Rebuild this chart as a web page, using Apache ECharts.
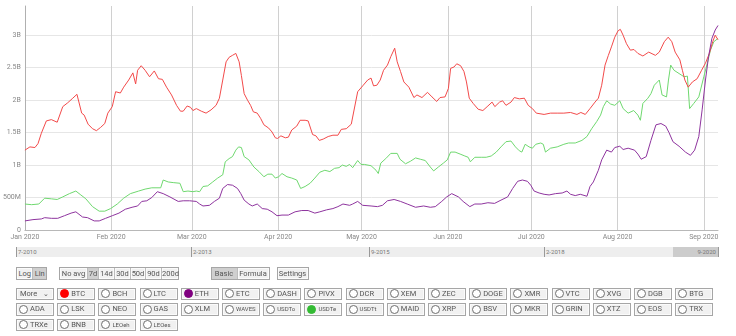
<!DOCTYPE html>
<html>
<head>
<meta charset="utf-8">
<script src="https://cdn.jsdelivr.net/npm/echarts@6/dist/echarts.min.js"></script>
<style>
html,body{margin:0;padding:0;background:#fff;}
#wrap{position:relative;width:736px;height:336px;overflow:hidden;font-family:Roboto,Arial,sans-serif;}
#chart{position:absolute;left:0;top:0;width:736px;height:336px;}
.nav{position:absolute;left:16px;top:247px;width:703px;height:10px;background:#eeeeee;}
.nav .sel{position:absolute;left:657px;right:0;top:0;bottom:0;background:#cccccc;}
.nav .tk{position:absolute;top:0;bottom:0;width:1px;background:#999;}
.nav .lb{position:absolute;top:1px;font-size:6px;line-height:8px;color:#777;}
.btn{position:absolute;box-sizing:border-box;height:13px;border:1px solid #a6a6a6;box-shadow:inset 0 0 0 1px #fbfbfb;background:#f1f1f1;color:#555;font-size:8px;line-height:11px;white-space:nowrap;overflow:hidden;}
.grp{position:absolute;box-sizing:border-box;height:13px;border:1px solid #a6a6a6;display:flex;background:#f1f1f1;}
.grp span{box-sizing:border-box;height:11px;font-size:7.5px;line-height:11px;color:#555;text-align:center;border-left:1px solid #bdbdbd;box-shadow:inset 0 0 0 1px #fbfbfb;}
.grp span:first-child{border-left:none;}
.grp span.on{background:#cfcfcf;box-shadow:none;}
.coin{height:12.5px;width:38px;font-size:7.5px;line-height:10.5px;}
.coin i{display:inline-block;box-sizing:border-box;width:9px;height:9px;border:1px solid #707070;border-radius:50%;background:#fff;vertical-align:top;margin:0.5px 2px 0 2px;}
.coin.sm{font-size:6px;}
.sel2{font-size:7.5px;}
</style>
</head>
<body>
<div id="wrap">
<div id="chart"></div>
<div id="ui"></div>
</div>
<script>
// ---- data (values in billions, x = days after 2020-01-01) ----
var btcData = [[0,1.23],[1.8,1.28],[3.6,1.27],[4.7,1.33],[5.9,1.49],[7.7,1.68],[9.5,1.70],[11.6,1.66],[13.6,1.90],[15.4,1.96],[17.2,2.03],[18.7,2.09],[20.4,1.80],[21.3,1.77],[22.7,1.63],[24.3,1.56],[25.7,1.53],[27.2,1.58],[28.7,1.64],[29.8,1.80],[31.4,1.90],[32.6,2.13],[34.3,2.11],[35.5,2.20],[37.3,2.31],[38.8,2.42],[39.8,2.25],[40.5,2.46],[41.8,2.53],[43.2,2.46],[44.8,2.36],[46.5,2.45],[48,2.33],[49.4,2.32],[50.9,2.20],[52.7,2.08],[54.5,1.92],[55.9,1.83],[56.9,1.83],[58.3,1.91],[59.5,1.89],[60.4,1.84],[61.6,1.87],[63.4,1.83],[65.1,1.80],[66.9,1.85],[68.7,1.92],[69.9,2.03],[71.1,2.31],[72.3,2.59],[73.4,2.66],[74.6,2.69],[75.8,2.72],[77,2.59],[77.8,2.38],[78.8,2.10],[80,2.00],[81.1,1.92],[82.1,1.82],[83.5,1.80],[84.7,1.72],[85.9,1.62],[87.6,1.57],[88.8,1.51],[90,1.42],[90.8,1.41],[92,1.45],[93.6,1.42],[94.7,1.43],[95.9,1.54],[97.7,1.60],[98.9,1.69],[100.7,1.69],[101.8,1.68],[103.4,1.47],[104.6,1.45],[105.8,1.38],[107.2,1.40],[109,1.44],[110.7,1.46],[112.5,1.46],[113.7,1.55],[115.5,1.56],[117.3,1.63],[117.8,1.74],[119.6,2.13],[121.4,2.22],[123.2,2.31],[124.4,2.34],[125.3,2.22],[126.5,2.23],[127.7,2.31],[128.9,2.46],[130.3,2.54],[131.5,2.67],[132.9,2.80],[133.8,2.59],[135,2.44],[136.2,2.28],[138,2.20],[139.8,2.04],[140.9,2.08],[142.7,2.04],[144.7,2.12],[146.3,2.05],[148,1.98],[149.2,2.04],[151,2.05],[152.2,2.18],[153,2.49],[154.2,2.51],[155.2,2.56],[156.6,2.53],[157.8,2.44],[158.7,2.28],[159.7,2.03],[161.1,1.95],[162.9,1.86],[164.6,1.84],[166.4,1.91],[167.9,1.97],[168.9,1.90],[170.6,1.97],[171.7,1.99],[172.9,1.92],[174.7,1.97],[175.9,2.04],[177.7,2.02],[179.5,2.03],[180.9,1.92],[182.4,1.87],[183.8,1.80],[186.6,1.78],[188.9,1.80],[191.3,1.80],[193.7,1.80],[196.1,1.81],[198.4,1.78],[199.8,1.81],[201.4,1.78],[203.1,1.87],[204.9,1.97],[206.1,2.03],[207.3,2.23],[208.5,2.54],[209.7,2.69],[210.8,2.82],[212,2.97],[213.2,3.07],[214,3.09],[215,3.00],[216.2,2.87],[217.6,2.77],[218.9,2.78],[220.3,2.72],[222.1,2.68],[224.2,2.74],[226.6,2.69],[228,2.74],[229.8,2.90],[231.2,2.97],[232.5,2.90],[233.7,2.74],[235.4,2.62],[236.3,2.46],[237.2,2.31],[238.4,2.20],[239.9,2.28],[241.6,2.33],[243.2,2.46],[244.6,2.57],[246,2.72],[247.2,2.90],[248.1,3.00],[249.1,2.93]];
var usdteData = [[0,0.40],[2.4,0.39],[5,0.40],[7.1,0.49],[9.5,0.48],[11.6,0.47],[13.6,0.51],[16,0.56],[18.3,0.60],[20.1,0.54],[21.9,0.48],[24.3,0.36],[26.7,0.29],[28.7,0.29],[30.8,0.33],[33.2,0.40],[35.5,0.49],[37.9,0.56],[40.9,0.60],[43.2,0.63],[45.6,0.65],[48.8,0.65],[49.7,0.77],[51.5,0.74],[53.3,0.73],[55.7,0.72],[56.9,0.59],[58.6,0.60],[60.4,0.59],[61.6,0.60],[62.8,0.59],[64,0.67],[65.7,0.68],[67.5,0.74],[69.3,0.80],[71.1,0.85],[72,1.05],[73.4,1.10],[74.6,1.13],[75.8,1.23],[76.8,1.28],[77.8,1.27],[78.8,1.13],[80.5,1.08],[82.3,0.97],[84.1,0.90],[85.9,0.82],[87.3,0.86],[88.8,0.86],[90,0.80],[91.2,0.82],[92.4,0.87],[94.2,0.82],[95.9,0.80],[97.7,0.77],[99.1,0.64],[100.7,0.67],[102.5,0.72],[104.2,0.80],[106,0.89],[107.8,0.92],[109.6,0.90],[111.3,0.95],[112.9,0.96],[114.1,1.00],[115.5,0.98],[116.7,1.01],[117.8,0.96],[119.6,1.07],[120.8,1.01],[122,1.01],[124.4,0.99],[126.2,0.92],[127,0.87],[127.9,1.03],[129.7,1.10],[131.5,1.18],[133.8,1.18],[134.8,1.09],[136.8,1.02],[138.6,1.06],[140.4,1.11],[142.1,1.09],[143.9,1.07],[145.7,0.97],[146.9,0.91],[148.6,0.97],[150.4,1.03],[151.8,1.08],[153,1.20],[154.6,1.20],[156.4,1.17],[158.1,1.14],[159.3,1.12],[160.1,1.05],[161.7,1.12],[164,1.12],[165.8,1.12],[167.6,1.14],[169.4,1.20],[171.1,1.28],[172.9,1.36],[174.7,1.37],[176.3,1.28],[177.7,1.22],[178.6,1.20],[179.8,1.32],[181.2,1.28],[182.4,1.26],[183.6,1.32],[185.4,1.34],[186.3,1.32],[187.1,1.20],[188.9,1.26],[191.3,1.28],[193.7,1.32],[195.4,1.34],[197.8,1.34],[200.2,1.38],[202,1.44],[203.7,1.56],[205.5,1.67],[206.9,1.77],[207.9,1.90],[209.1,1.99],[210.5,1.94],[212,1.92],[213.8,1.99],[215,1.87],[216.8,1.80],[218.8,1.84],[220.3,1.77],[221.2,1.69],[222.1,1.95],[223.9,2.03],[225,2.10],[226.2,2.23],[228,2.31],[229,2.08],[230.6,2.05],[231.3,2.31],[232.1,2.54],[233.3,2.46],[235.1,2.41],[236.9,2.36],[238.1,2.37],[238.9,1.87],[240.4,1.95],[242.2,2.05],[244,2.36],[245.2,2.56],[246.4,2.77],[247.6,2.90],[249.1,2.95]];
var ethData = [[0,0.14],[2.9,0.16],[5.9,0.17],[7.1,0.19],[9.5,0.18],[11.8,0.18],[14.2,0.22],[16.6,0.26],[18.3,0.28],[20.7,0.20],[22.5,0.19],[24.9,0.14],[26.7,0.14],[29,0.18],[31.4,0.22],[33.8,0.26],[36.1,0.32],[38.5,0.35],[40.5,0.37],[42,0.44],[43.8,0.45],[45.6,0.50],[47.6,0.59],[49.7,0.56],[52.1,0.51],[55.1,0.44],[56.9,0.45],[59.2,0.45],[61.6,0.44],[62.8,0.40],[64,0.37],[66.3,0.38],[68.1,0.44],[69.9,0.49],[71.1,0.64],[72.8,0.70],[74.6,0.69],[76.4,0.64],[77.6,0.56],[78.8,0.46],[80.5,0.40],[81.7,0.37],[83.5,0.40],[85.3,0.33],[87.1,0.32],[88.8,0.28],[90.6,0.22],[92.4,0.23],[94.7,0.23],[97.1,0.28],[99.5,0.30],[101.8,0.30],[104.2,0.26],[106,0.28],[108.4,0.31],[110.7,0.33],[112.5,0.36],[114.3,0.40],[116.7,0.38],[117.8,0.40],[119.6,0.44],[121.4,0.38],[124.4,0.37],[126.7,0.36],[128.5,0.38],[130.3,0.45],[132.7,0.47],[135,0.44],[137.4,0.40],[140.4,0.35],[143.3,0.37],[145.7,0.35],[147.5,0.36],[149.8,0.44],[151.6,0.51],[153.4,0.56],[155.8,0.51],[157.5,0.44],[159.9,0.36],[161.7,0.40],[164,0.40],[166.4,0.42],[168.8,0.41],[171.1,0.46],[173.5,0.51],[175.3,0.64],[177.1,0.75],[178.8,0.77],[180.6,0.75],[181.8,0.69],[183,0.60],[184.8,0.57],[186.6,0.55],[188.4,0.54],[190.7,0.56],[193.1,0.57],[194.8,0.60],[196.1,0.55],[197.8,0.53],[199.6,0.55],[202,0.52],[203.1,0.67],[204.3,0.74],[206.1,0.92],[207.3,1.08],[209.1,1.23],[210.8,1.20],[212,1.27],[213.8,1.29],[215,1.24],[216.8,1.26],[219.1,1.23],[220.3,1.17],[221.5,1.09],[223.3,1.13],[225,1.38],[226.8,1.62],[228.6,1.64],[230.3,1.60],[231.5,1.50],[232.9,1.36],[235.1,1.29],[237.4,1.20],[239.2,1.15],[240.7,1.23],[242.2,1.44],[243.4,1.85],[244.6,2.31],[245.7,2.67],[246.9,2.95],[248.1,3.08],[249.1,3.15]];
var startDate = [2020, 0, 1];
var endDay = 249.1;
var yMax = 3.45;
var yStep = 0.5;
var navLabels = ['7-2010', '2-2013', '9-2015', '2-2018', '9-2020'];
var row2Coins = ['BTC','BCH','LTC','ETH','ETC','DASH','PIVX','DCR','XEM','ZEC','DOGE','XMR','VTC','XVG','DGB','BTG'];
var row3Coins = ['ADA','LSK','NEO','GAS','XLM','WAVES','USDTo','USDTe','USDTt','MAID','XRP','BSV','MKR','GRIN','XTZ','EOS','TRX'];
var row4Coins = ['TRXe','BNB','LEOeh','LEOes'];
var activeCoins = {BTC:'#ff0000', ETH:'#800080', USDTe:'#33bb33'};

var base = new Date(startDate[0], startDate[1], startDate[2]).getTime();
function toTime(arr){ return arr.map(function(p){ return [base + p[0]*864e5, p[1]]; }); }

var chart = echarts.init(document.getElementById('chart'), null, {renderer:'canvas'});
var fontFam = 'Roboto, Arial, sans-serif';
chart.setOption({
  animation:false,
  grid:{left:16, right:18, top:6, bottom:106, containLabel:false},
  xAxis:{
    type:'time', min:base, max:base+endDay*864e5,
    splitNumber:8, minInterval:28*864e5, maxInterval:31*864e5,
    axisLine:{show:true, lineStyle:{color:'#b8b8b8', width:1}},
    axisTick:{show:false},
    axisLabel:{formatter:'{MMM} {yyyy}', color:'#888', fontSize:7, fontFamily:fontFam, margin:4, hideOverlap:false},
    splitLine:{show:true, showMaxLine:false, lineStyle:{color:'#d0d0d0', width:1}}
  },
  yAxis:{
    type:'value', min:0, max:yMax, interval:yStep,
    axisLine:{show:true, lineStyle:{color:'#b0b0b0', width:1}},
    axisTick:{show:false},
    axisLabel:{showMaxLabel:false, color:'#888', fontSize:7, fontFamily:fontFam, margin:4,
      formatter:function(v){ if(v===0) return '0'; if(v>=1) return v+'B'; return Math.round(v*1000)+'M'; }},
    splitLine:{show:true, showMaxLine:false, lineStyle:{color:'#e6e6e6', width:1}}
  },
  series:[
    {name:'USDTe', type:'line', data:toTime(usdteData), showSymbol:false, lineStyle:{color:'#6fd86f', width:1}, itemStyle:{color:'#6fd86f'}},
    {name:'BTC', type:'line', data:toTime(btcData), showSymbol:false, lineStyle:{color:'#f24a4a', width:1}, itemStyle:{color:'#f24a4a'}},
    {name:'ETH', type:'line', data:toTime(ethData), showSymbol:false, lineStyle:{color:'#8e349e', width:1}, itemStyle:{color:'#8e349e'}}
  ]
});

// ---- UI below chart ----
var ui = document.getElementById('ui');
var h = '';
// navigator
var navTicks = [0, 175, 353, 528];
h += '<div class="nav"><div class="sel"></div>';
for (var i=0;i<navTicks.length;i++){
  h += '<div class="tk" style="left:'+navTicks[i]+'px"></div><div class="lb" style="left:'+(navTicks[i]+2)+'px">'+navLabels[i]+'</div>';
}
h += '<div class="tk" style="left:702px"></div><div class="lb" style="right:3px">'+navLabels[4]+'</div></div>';
// row 1
h += '<div class="grp" style="left:16px;top:266.5px;width:31px"><span style="width:16px">Log</span><span class="on" style="width:14px">Lin</span></div>';
h += '<div class="grp" style="left:59px;top:266.5px;width:120px"><span style="width:27px">No avg</span><span class="on" style="width:11px">7d</span><span style="width:16px">14d</span><span style="width:16px">30d</span><span style="width:15px">50d</span><span style="width:16px">90d</span><span style="width:17px">200d</span></div>';
h += '<div class="grp" style="left:210.5px;top:266.5px;width:59px"><span class="on" style="width:25px">Basic</span><span style="width:32px">Formula</span></div>';
h += '<div class="btn" style="left:276.5px;top:266.5px;width:32px;text-align:center;font-size:7.5px">Settings</div>';
// coin rows
function coinBtn(name, col, top){
  var x = 16 + col*41.2;
  var c = activeCoins[name];
  var dot = c ? '<i style="background:'+c+';border-color:'+c+'"></i>' : '<i></i>';
  var sm = name.length >= 5 ? ' sm' : '';
  return '<div class="btn coin'+sm+'" style="left:'+x.toFixed(1)+'px;top:'+top+'px">'+dot+name+'</div>';
}
h += '<div class="btn coin sel2" style="left:16px;top:287.5px;padding-left:3px">More<span style="position:absolute;right:4px;top:0;font-size:7px">&#8964;</span></div>';
for (var i=0;i<row2Coins.length;i++) h += coinBtn(row2Coins[i], i+1, 287.5);
for (var i=0;i<row3Coins.length;i++) h += coinBtn(row3Coins[i], i, 303);
for (var i=0;i<row4Coins.length;i++) h += coinBtn(row4Coins[i], i, 318.5);
ui.innerHTML = h;
</script>
</body>
</html>
